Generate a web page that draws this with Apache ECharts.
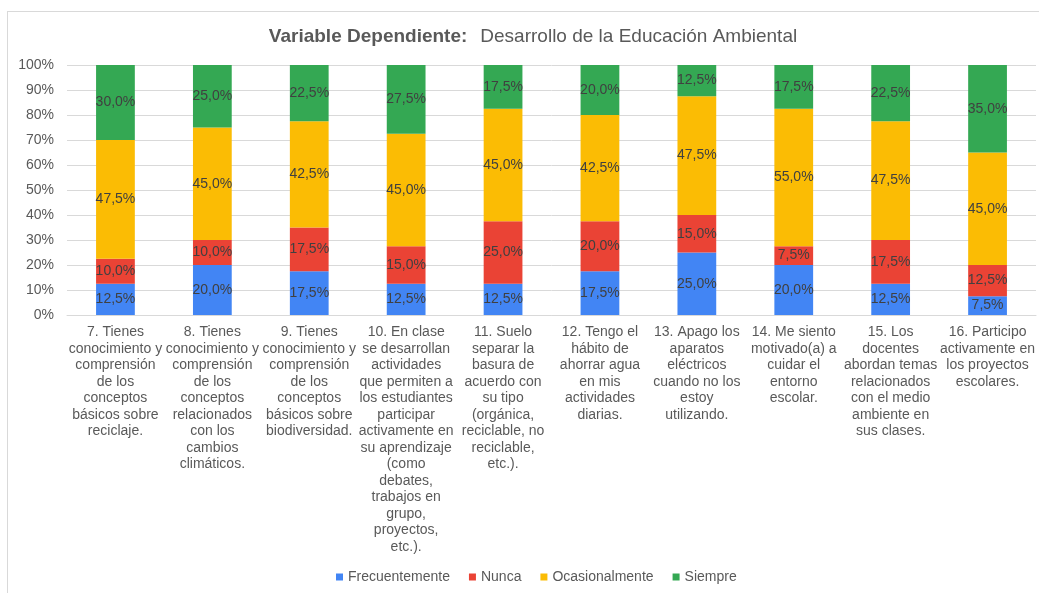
<!DOCTYPE html>
<html>
<head>
<meta charset="utf-8">
<script src="https://cdn.jsdelivr.net/npm/echarts@6/dist/echarts.min.js"></script>
<style>
  html, body { margin: 0; padding: 0; background: #fff; }
  #frame { position: absolute; left: 7px; top: 11px; width: 1040px; height: 590px; border: 1px solid #d9d9d9; box-sizing: border-box; }
  #chart { position: absolute; left: 0; top: 0; width: 1039px; height: 593px; }
</style>
</head>
<body>
<div id="frame"></div>
<div id="chart"></div>
<script>
// preguntas (eje x)
var preguntas = [
    '7. Tienes\nconocimiento y\ncomprensión\nde los\nconceptos\nbásicos sobre\nreciclaje.',
    '8. Tienes\nconocimiento y\ncomprensión\nde los\nconceptos\nrelacionados\ncon los\ncambios\nclimáticos.',
    '9. Tienes\nconocimiento y\ncomprensión\nde los\nconceptos\nbásicos sobre\nbiodiversidad.',
    '10. En clase\nse desarrollan\nactividades\nque permiten a\nlos estudiantes\nparticipar\nactivamente en\nsu aprendizaje\n(como\ndebates,\ntrabajos en\ngrupo,\nproyectos,\netc.).',
    '11. Suelo\nseparar la\nbasura de\nacuerdo con\nsu tipo\n(orgánica,\nreciclable, no\nreciclable,\netc.).',
    '12. Tengo el\nhábito de\nahorrar agua\nen mis\nactividades\ndiarias.',
    '13. Apago los\naparatos\neléctricos\ncuando no los\nestoy\nutilizando.',
    '14. Me siento\nmotivado(a) a\ncuidar el\nentorno\nescolar.',
    '15. Los\ndocentes\nabordan temas\nrelacionados\ncon el medio\nambiente en\nsus clases.',
    '16. Participo\nactivamente en\nlos proyectos\nescolares.'
];
var frecuentemente = [12.5, 20, 17.5, 12.5, 12.5, 17.5, 25, 20, 12.5, 7.5];
var nunca          = [10, 10, 17.5, 15, 25, 20, 15, 7.5, 17.5, 12.5];
var ocasionalmente = [47.5, 45, 42.5, 45, 45, 42.5, 47.5, 55, 47.5, 45];
var siempre        = [30, 25, 22.5, 27.5, 17.5, 20, 12.5, 17.5, 22.5, 35];

var colores = ['#4285F4', '#EA4335', '#FBBC04', '#34A853'];
var fuente = 'Liberation Sans, Arial, sans-serif';

var myChart = echarts.init(document.getElementById('chart'));

function serie(nombre, datos) {
    return {
        name: nombre,
        type: 'bar',
        stack: 'total',
        barWidth: '40%',
        data: datos,
        label: {
            show: true,
            position: 'inside',
            color: '#404040',
            fontSize: 14,
            fontFamily: fuente,
            formatter: function (p) {
                return p.value.toFixed(1).replace('.', ',') + '%';
            }
        }
    };
}

var option = {
    animation: false,
    color: colores,
    title: {
        text: '{b|Variable Dependiente:}{n|Desarrollo de la Educación Ambiental}',
        left: 528,
        top: 22,
        textAlign: 'center',
        textStyle: {
            rich: {
                b: { fontSize: 19, fontWeight: 'bold', color: '#595959', fontFamily: fuente, padding: [0, 13, 0, 0] },
                n: { fontSize: 19, fontWeight: 'normal', color: '#595959', fontFamily: fuente }
            }
        }
    },
    legend: {
        bottom: 4,
        left: 331,
        itemWidth: 7,
        itemHeight: 7,
        itemGap: 19,
        icon: 'rect',
        textStyle: { color: '#595959', fontSize: 14, fontFamily: fuente },
        data: ['Frecuentemente', 'Nunca', 'Ocasionalmente', 'Siempre']
    },
    grid: {
        left: 67,
        right: 3,
        top: 65,
        height: 250
    },
    xAxis: {
        type: 'category',
        data: preguntas,
        axisTick: { show: false },
        axisLine: { lineStyle: { color: '#d9d9d9', width: 1 } },
        axisLabel: {
            interval: 0,
            color: '#595959',
            fontSize: 14,
            lineHeight: 16.5,
            fontFamily: fuente,
            margin: 9
        }
    },
    yAxis: {
        type: 'value',
        min: 0,
        max: 100,
        interval: 10,
        axisLabel: {
            formatter: '{value}%',
            color: '#595959',
            fontSize: 14,
            fontFamily: fuente,
            margin: 13
        },
        splitLine: { lineStyle: { color: '#d9d9d9' } }
    },
    series: [
        serie('Frecuentemente', frecuentemente),
        serie('Nunca', nunca),
        serie('Ocasionalmente', ocasionalmente),
        serie('Siempre', siempre)
    ]
};

myChart.setOption(option);
</script>
</body>
</html>
